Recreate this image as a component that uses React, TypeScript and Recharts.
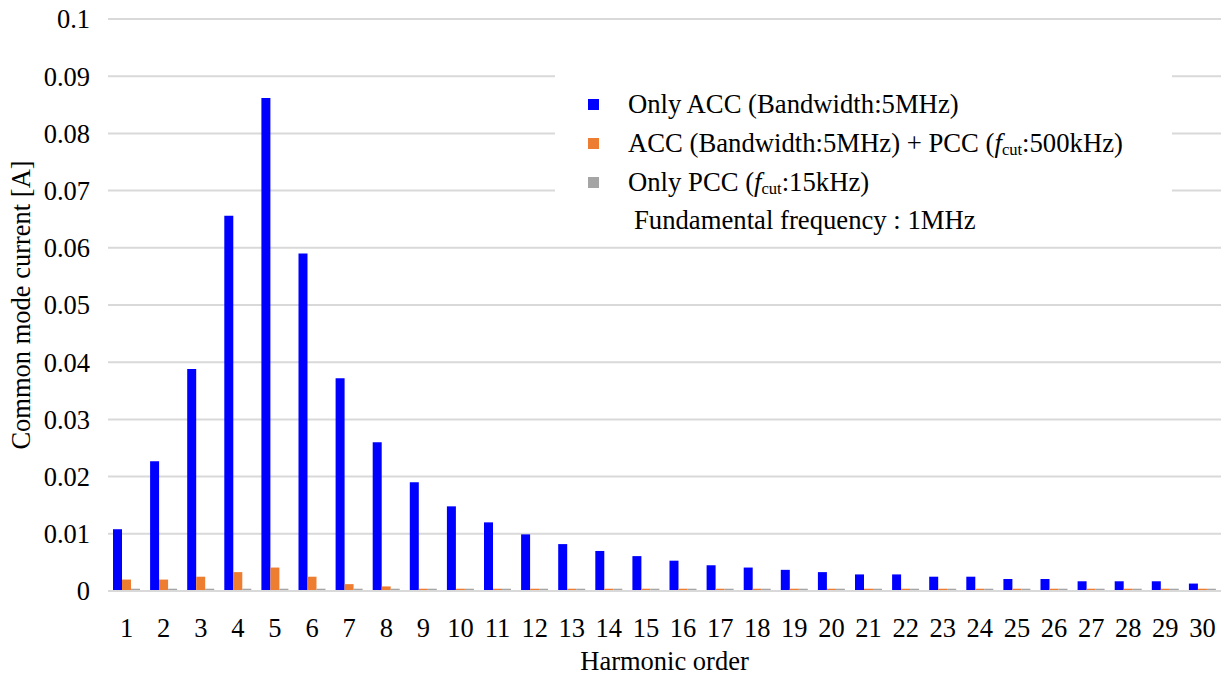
import React from 'react';
import { BarChart, Bar, XAxis, YAxis, CartesianGrid, Label } from 'recharts';

// harmonic order 1..30
const harmonics = [
  '1', '2', '3', '4', '5', '6', '7', '8', '9', '10',
  '11', '12', '13', '14', '15', '16', '17', '18', '19', '20',
  '21', '22', '23', '24', '25', '26', '27', '28', '29', '30',
];

// common mode current [A]
const onlyAcc = [
  0.0108, 0.0227, 0.0388, 0.0656, 0.0862, 0.059, 0.0372, 0.026, 0.019, 0.0148,
  0.012, 0.0099, 0.0082, 0.007, 0.0061, 0.0053, 0.0045, 0.0041, 0.0037, 0.0033,
  0.0029, 0.0029, 0.0025, 0.0025, 0.0021, 0.0021, 0.0017, 0.0017, 0.0017, 0.0013,
];
const accPcc = [
  0.002, 0.002, 0.0025, 0.0033, 0.0041, 0.0025, 0.0012, 0.0008, 0.0004, 0.0004,
  0.0004, 0.0004, 0.0004, 0.0004, 0.0004, 0.0004, 0.0004, 0.0004, 0.0004, 0.0004,
  0.0004, 0.0004, 0.0004, 0.0004, 0.0004, 0.0004, 0.0004, 0.0004, 0.0004, 0.0004,
];
const onlyPcc = [
  0.0004, 0.0004, 0.0004, 0.0004, 0.0004, 0.0004, 0.0004, 0.0004, 0.0004, 0.0004,
  0.0004, 0.0004, 0.0004, 0.0004, 0.0004, 0.0004, 0.0004, 0.0004, 0.0004, 0.0004,
  0.0004, 0.0004, 0.0004, 0.0004, 0.0004, 0.0004, 0.0004, 0.0004, 0.0004, 0.0004,
];

const yTicks = [0, 0.01, 0.02, 0.03, 0.04, 0.05, 0.06, 0.07, 0.08, 0.09, 0.1];

const data = harmonics.map((h, i) => ({
  order: h,
  onlyAcc: onlyAcc[i],
  accPcc: accPcc[i],
  onlyPcc: onlyPcc[i],
}));

const FONT = '"Liberation Serif"';
const FS = 26.5;
const BLUE = '#0000ff';
const ORANGE = '#ed7d31';
const GRAY = '#a5a5a5';
const GRID = '#d9d9d9';

const Fcut = () => (
  <>
    <i>f</i>
    <span style={{ fontSize: '0.62em', position: 'relative', top: '0.2em' }}>cut</span>
  </>
);

const legendRows = [
  { color: BLUE, text: <>Only ACC (Bandwidth:5MHz)</> },
  { color: ORANGE, text: <>ACC (Bandwidth:5MHz) + PCC (<Fcut />:500kHz)</> },
  { color: GRAY, text: <>Only PCC (<Fcut />:15kHz)</> },
];

const YTitle = (props: any) => {
  const vb = props.viewBox || { x: 0, y: 0, width: 0, height: 0 };
  const cx = vb.x + 21;
  const cy = vb.y + vb.height / 2;
  return (
    <text
      x={cx}
      y={cy}
      transform={`rotate(-90 ${cx} ${cy})`}
      textAnchor="middle"
      dominantBaseline="central"
      fill="#000"
      style={{ fontFamily: FONT, fontSize: FS }}
    >
      Common mode current [A]
    </text>
  );
};

export default function App() {
  return (
    <div style={{ position: 'absolute', left: 0, top: 0, width: 1232, height: 677, background: '#fff' }}>
      <BarChart
        width={1232}
        height={677}
        data={data}
        margin={{ top: 19, right: 11, bottom: 0, left: 0 }}
        barCategoryGap={5}
        barGap={0}
      >
        <CartesianGrid vertical={false} stroke={GRID} strokeWidth={2} />
        <XAxis
          dataKey="order"
          height={86}
          tickLine={false}
          tickSize={0}
          tickMargin={27}
          axisLine={{ stroke: GRID, strokeWidth: 2 }}
          tick={{ fill: '#000', fontSize: FS, fontFamily: FONT }}
          interval={0}
        >
          <Label
            value="Harmonic order"
            position="insideBottom"
            offset={7}
            style={{ fill: '#000', fontSize: FS, fontFamily: FONT }}
          />
        </XAxis>
        <YAxis
          width={108}
          domain={[0, 0.1]}
          ticks={yTicks}
          tickFormatter={(v: number) => String(v)}
          axisLine={false}
          tickLine={false}
          tickSize={0}
          tickMargin={18}
          tick={{ fill: '#000', fontSize: FS, fontFamily: FONT }}
          label={<YTitle />}
        />
        <Bar dataKey="onlyAcc" fill={BLUE} isAnimationActive={false} />
        <Bar dataKey="accPcc" fill={ORANGE} isAnimationActive={false} />
        <Bar dataKey="onlyPcc" fill={GRAY} isAnimationActive={false} />
      </BarChart>

      <div
        style={{
          position: 'absolute',
          left: 555,
          top: 72,
          width: 617,
          height: 168,
          background: '#fff',
          fontFamily: FONT,
          fontSize: 26.7,
          color: '#000',
        }}
      >
        {legendRows.map((r, i) => (
          <div
            key={i}
            style={{
              position: 'absolute',
              left: 0,
              top: 13 + i * 39,
              height: 39,
              display: 'flex',
              alignItems: 'center',
              whiteSpace: 'nowrap',
            }}
          >
            <span style={{ display: 'inline-block', width: 11, height: 11, background: r.color, marginLeft: 33, marginRight: 29 }} />
            <span>{r.text}</span>
          </div>
        ))}
        <div
          style={{
            position: 'absolute',
            left: 79,
            top: 12 + 3 * 39,
            height: 39,
            display: 'flex',
            alignItems: 'center',
            whiteSpace: 'nowrap',
          }}
        >
          Fundamental frequency : 1MHz
        </div>
      </div>
    </div>
  );
}
